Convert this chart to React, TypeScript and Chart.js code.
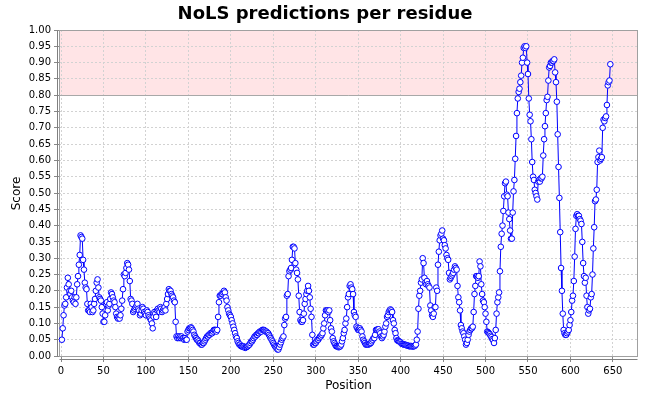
import { useEffect, useRef } from 'react';
import { Chart, registerables, type ChartConfiguration, type Plugin } from 'chart.js';

Chart.register(...registerables);

const chartTitle = 'NoLS predictions per residue';
const xTitle = 'Position';
const yTitle = 'Score';
const xTicks = [0, 50, 100, 150, 200, 250, 300, 350, 400, 450, 500, 550, 600, 650];
const yTicks = [0, 0.05, 0.1, 0.15, 0.2, 0.25, 0.3, 0.35, 0.4, 0.45, 0.5, 0.55, 0.6, 0.65, 0.7, 0.75, 0.8, 0.85, 0.9, 0.95, 1.0];
const nolsBand = [0.8, 1.0];

// score per residue, residue 1 first
const scores = [
  0.05, 0.085, 0.125, 0.155, 0.16, 0.18, 0.21, 0.24, 0.22, 0.2,
  0.19, 0.2, 0.18, 0.17, 0.165, 0.18, 0.16, 0.18, 0.22, 0.245,
  0.28, 0.31, 0.37, 0.365, 0.36, 0.295, 0.265, 0.225, 0.21, 0.205,
  0.16, 0.14, 0.14, 0.135, 0.16, 0.15, 0.135, 0.14, 0.16, 0.175,
  0.2, 0.225, 0.235, 0.21, 0.18, 0.175, 0.17, 0.15, 0.13, 0.105,
  0.105, 0.125, 0.16, 0.165, 0.14, 0.155, 0.16, 0.175, 0.195, 0.19,
  0.18, 0.17, 0.165, 0.15, 0.13, 0.12, 0.115, 0.12, 0.115, 0.125,
  0.145, 0.17, 0.205, 0.25, 0.245, 0.255, 0.27, 0.285, 0.28, 0.265,
  0.23, 0.175, 0.17, 0.16, 0.135, 0.14, 0.145, 0.15, 0.155, 0.16,
  0.145, 0.14, 0.125, 0.13, 0.14, 0.15, 0.145, 0.135, 0.13, 0.125,
  0.14, 0.135, 0.125, 0.12, 0.115, 0.11, 0.1, 0.085, 0.12, 0.135,
  0.13, 0.12, 0.14, 0.145, 0.14, 0.135, 0.15, 0.145, 0.135, 0.14,
  0.145, 0.15, 0.14, 0.16, 0.175, 0.19, 0.205, 0.2, 0.2, 0.19,
  0.185, 0.18, 0.17, 0.165, 0.105, 0.06, 0.055, 0.06, 0.055, 0.06,
  0.055, 0.06, 0.055, 0.055, 0.05, 0.055, 0.05, 0.05, 0.075, 0.08,
  0.085, 0.085, 0.088, 0.085, 0.08, 0.075, 0.065, 0.06, 0.055, 0.05,
  0.05, 0.045, 0.04, 0.04, 0.035, 0.035, 0.04, 0.04, 0.045, 0.05,
  0.055, 0.06, 0.06, 0.065, 0.065, 0.07, 0.07, 0.07, 0.075, 0.08,
  0.08, 0.08, 0.075, 0.08, 0.12, 0.165, 0.185, 0.185, 0.19, 0.19,
  0.195, 0.2, 0.195, 0.18, 0.17, 0.15, 0.14, 0.13, 0.125, 0.12,
  0.11, 0.1, 0.09, 0.08, 0.07, 0.06, 0.055, 0.045, 0.04, 0.035,
  0.035, 0.03, 0.03, 0.028, 0.03, 0.027, 0.025, 0.027, 0.028, 0.03,
  0.033, 0.035, 0.04, 0.045, 0.045, 0.05, 0.055, 0.06, 0.06, 0.065,
  0.065, 0.07, 0.07, 0.075, 0.075, 0.075, 0.08, 0.08, 0.08, 0.078,
  0.075, 0.075, 0.072, 0.07, 0.065, 0.06, 0.055, 0.05, 0.045, 0.04,
  0.035, 0.03, 0.027, 0.024, 0.02, 0.02, 0.027, 0.035, 0.042, 0.05,
  0.055, 0.06, 0.095, 0.115, 0.12, 0.185, 0.19, 0.245, 0.26, 0.265,
  0.27, 0.295, 0.335, 0.335, 0.33, 0.285, 0.265, 0.255, 0.235, 0.185,
  0.135, 0.11, 0.105, 0.105, 0.11, 0.13, 0.16, 0.175, 0.19, 0.2,
  0.215, 0.2, 0.18, 0.145, 0.12, 0.065, 0.035, 0.035, 0.04, 0.04,
  0.045, 0.05, 0.05, 0.055, 0.06, 0.06, 0.065, 0.07, 0.085, 0.1,
  0.125, 0.14, 0.14, 0.14, 0.135, 0.14, 0.11, 0.085, 0.075, 0.055,
  0.045, 0.04, 0.035, 0.03, 0.03, 0.028, 0.027, 0.028, 0.03, 0.035,
  0.045, 0.055, 0.07, 0.08, 0.1, 0.115, 0.15, 0.18, 0.19, 0.215,
  0.22, 0.21, 0.205, 0.19, 0.135, 0.125, 0.12, 0.09, 0.085, 0.08,
  0.08, 0.085, 0.08, 0.075, 0.06, 0.05, 0.045, 0.04, 0.035, 0.035,
  0.035, 0.035, 0.037, 0.038, 0.04, 0.045, 0.05, 0.055, 0.055, 0.065,
  0.08, 0.08, 0.082, 0.082, 0.075, 0.07, 0.06, 0.055, 0.06, 0.065,
  0.075, 0.09, 0.1, 0.12, 0.125, 0.135, 0.14, 0.143, 0.14, 0.135,
  0.11, 0.1, 0.08, 0.07, 0.055, 0.048, 0.047, 0.045, 0.044, 0.042,
  0.038, 0.037, 0.036, 0.035, 0.035, 0.034, 0.033, 0.032, 0.032, 0.03,
  0.03, 0.031, 0.03, 0.029, 0.03, 0.03, 0.032, 0.035, 0.05, 0.075,
  0.145, 0.185, 0.2, 0.225, 0.235, 0.3, 0.285, 0.24, 0.225, 0.22,
  0.23, 0.22, 0.215, 0.21, 0.155, 0.14, 0.125, 0.12, 0.13, 0.15,
  0.15, 0.21, 0.2, 0.28, 0.32, 0.355, 0.37, 0.375, 0.385, 0.36,
  0.355, 0.34, 0.33, 0.31, 0.3, 0.295, 0.255, 0.235, 0.24, 0.245,
  0.25, 0.255, 0.265, 0.275, 0.27, 0.265, 0.215, 0.18, 0.165, 0.14,
  0.095, 0.085, 0.075, 0.07, 0.06, 0.05, 0.035, 0.04, 0.05, 0.065,
  0.075, 0.08, 0.085, 0.085, 0.09, 0.135, 0.19, 0.215, 0.245, 0.245,
  0.24, 0.245, 0.29, 0.275, 0.22, 0.19, 0.17, 0.165, 0.15, 0.13,
  0.105, 0.075, 0.073, 0.07, 0.067, 0.062, 0.058, 0.052, 0.048, 0.04,
  0.055, 0.08, 0.13, 0.165, 0.18, 0.195, 0.26, 0.335, 0.375, 0.4,
  0.445, 0.49, 0.53, 0.535, 0.495, 0.49, 0.44, 0.42, 0.385, 0.36,
  0.36, 0.44, 0.505, 0.54, 0.605, 0.675, 0.745, 0.79, 0.81, 0.82,
  0.84, 0.86, 0.9, 0.915, 0.945, 0.95, 0.945, 0.95, 0.9, 0.865,
  0.79, 0.74, 0.72, 0.665, 0.595, 0.55, 0.54, 0.51, 0.5, 0.49,
  0.48, 0.535, 0.54, 0.535, 0.545, 0.545, 0.55, 0.615, 0.665, 0.705,
  0.745, 0.785, 0.795, 0.845, 0.885, 0.89, 0.9, 0.9, 0.905, 0.905,
  0.91, 0.87, 0.84, 0.78, 0.68, 0.58, 0.485, 0.38, 0.27, 0.2,
  0.13, 0.08, 0.07, 0.065, 0.065, 0.07, 0.075, 0.08, 0.095, 0.11,
  0.135, 0.17, 0.185, 0.23, 0.305, 0.39, 0.43, 0.435, 0.43, 0.43,
  0.42, 0.415, 0.405, 0.35, 0.285, 0.245, 0.225, 0.24, 0.185, 0.15,
  0.13, 0.14, 0.145, 0.18, 0.19, 0.25, 0.33, 0.395, 0.475, 0.48,
  0.51, 0.595, 0.61, 0.63, 0.6, 0.605, 0.61, 0.7, 0.725, 0.72,
  0.73, 0.735, 0.77, 0.83, 0.84, 0.845, 0.895
];

const FONT = 'DejaVu Sans';

// pink NoLS band, plot frame, offset axis lines and the centred title
const plotDecor: Plugin<'line'> = {
  id: 'plotDecor',
  beforeDraw(chart) {
    const { ctx, chartArea, scales } = chart;
    const yScale = scales.y;
    ctx.save();
    ctx.fillStyle = '#ffffff';
    ctx.fillRect(0, 0, chart.width, chart.height);
    const top = yScale.getPixelForValue(nolsBand[1]);
    const bottom = yScale.getPixelForValue(nolsBand[0]);
    ctx.fillStyle = '#ffe4e6';
    ctx.fillRect(chartArea.left, top, chartArea.right - chartArea.left, bottom - top);
    ctx.restore();
  },
  beforeDatasetsDraw(chart) {
    const { ctx, chartArea, scales } = chart;
    const yb = Math.round(scales.y.getPixelForValue(nolsBand[0])) + 0.5;
    ctx.save();
    ctx.lineWidth = 1;
    ctx.strokeStyle = '#a8a8a8';
    ctx.beginPath();
    ctx.moveTo(chartArea.left, yb);
    ctx.lineTo(chartArea.right, yb);
    ctx.stroke();

    const l = Math.round(chartArea.left) + 0.5;
    const r = Math.round(chartArea.right) - 0.5;
    const t = Math.round(chartArea.top) + 0.5;
    const b = Math.round(chartArea.bottom) - 0.5;
    ctx.strokeStyle = '#a0a0a0';
    ctx.strokeRect(l, t, r - l, b - t);

    ctx.strokeStyle = '#808080';
    ctx.beginPath();
    ctx.moveTo(l - 2, t);
    ctx.lineTo(l - 2, b);
    ctx.moveTo(l, b + 3);
    ctx.lineTo(r, b + 3);
    ctx.stroke();
    ctx.restore();
  },
  afterDraw(chart) {
    const { ctx } = chart;
    ctx.save();
    ctx.fillStyle = '#000';
    ctx.font = `bold 18px "${FONT}"`;
    ctx.textAlign = 'center';
    ctx.textBaseline = 'alphabetic';
    ctx.fillText(chartTitle, chart.width / 2, 18.5);
    ctx.restore();
  }
};

export default function App() {
  const chartRef = useRef<HTMLCanvasElement>(null);
  const chartInstanceRef = useRef<Chart | null>(null);

  useEffect(() => {
    document.body.style.margin = '0';
    if (chartInstanceRef.current) {
      chartInstanceRef.current.destroy();
    }
    const canvas = chartRef.current;
    if (!canvas) {
      return;
    }

    const points = scores.map((s, i) => ({ x: i + 1, y: s }));

    const config: ChartConfiguration<'line', { x: number; y: number }[]> = {
      type: 'line',
      data: {
        datasets: [
          {
            label: 'Score',
            data: points,
            borderColor: '#0000ff',
            borderWidth: 1,
            pointRadius: 2.8,
            pointBorderWidth: 1,
            pointBorderColor: '#0000ff',
            pointBackgroundColor: '#ffffff',
            tension: 0
          }
        ]
      },
      options: {
        responsive: false,
        animation: false,
        layout: { padding: { left: 0, right: 12, top: 30, bottom: 0 } },
        scales: {
          x: {
            type: 'linear',
            min: -2.4,
            max: 679.6,
            afterBuildTicks: axis => {
              axis.ticks = xTicks.map(v => ({ value: v }));
            },
            afterFit: scale => {
              scale.height = 43;
            },
            ticks: {
              color: '#000',
              font: { family: FONT, size: 10 },
              padding: 3,
              maxRotation: 0,
              autoSkip: false
            },
            grid: { color: '#d2d2d2', lineWidth: 1, tickLength: 5, tickColor: '#888888', tickBorderDash: [] },
            border: { display: false, dash: [2, 2] },
            title: {
              display: true,
              text: xTitle,
              color: '#000',
              font: { family: FONT, size: 12 },
              padding: { top: 0, bottom: 6.5 }
            }
          },
          y: {
            type: 'linear',
            min: -0.003,
            max: 1.0,
            afterBuildTicks: axis => {
              axis.ticks = yTicks.map(v => ({ value: v }));
            },
            afterFit: scale => {
              scale.width = 59;
            },
            ticks: {
              color: '#000',
              font: { family: FONT, size: 10 },
              padding: 3,
              autoSkip: false,
              callback: v => Number(v).toFixed(2)
            },
            grid: { color: '#d2d2d2', lineWidth: 1, tickLength: 5, tickColor: '#888888', tickBorderDash: [] },
            border: { display: false, dash: [2, 2] },
            title: {
              display: true,
              text: yTitle,
              color: '#000',
              font: { family: FONT, size: 12 },
              padding: { top: 10, bottom: 0 }
            }
          }
        },
        plugins: {
          legend: { display: false },
          tooltip: { enabled: false },
          title: { display: false }
        }
      },
      plugins: [plotDecor]
    };

    chartInstanceRef.current = new Chart(canvas, config);

    return () => {
      chartInstanceRef.current?.destroy();
    };
  }, []);

  return (
    <div style={{ width: 650, height: 400 }}>
      <canvas ref={chartRef} width={650} height={400} />
    </div>
  );
}
